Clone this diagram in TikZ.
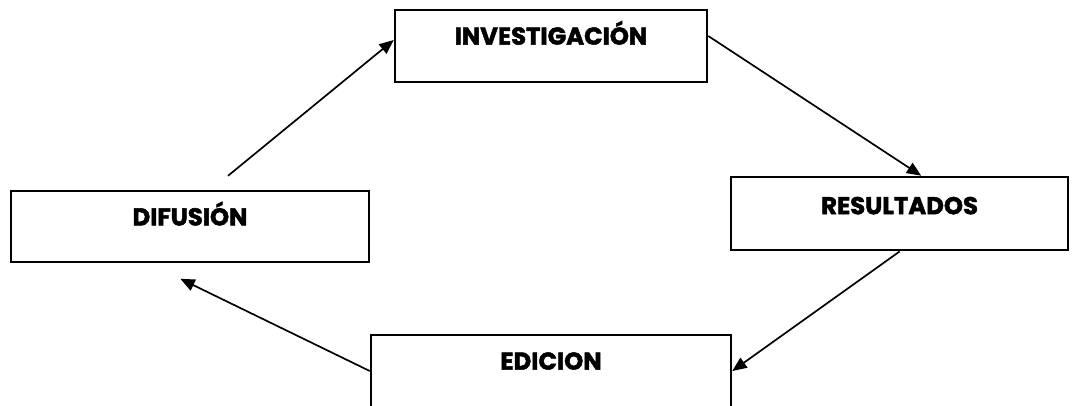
\documentclass[tikz,border=0pt]{standalone}
\usepackage{fontspec}
\setmainfont{Poppins}[BoldFeatures={FakeBold=2}]
\usetikzlibrary{arrows.meta}
\begin{document}
\begin{tikzpicture}
\tikzstyle{etapa}=[draw=black, line width=1.8pt, inner xsep=0pt, inner ysep=0pt,
  text height=0.86cm, text depth=0.93cm, font=\fontsize{17.3}{20}\selectfont\bfseries]
\tikzstyle{flecha}=[line width=1.2pt, -{Triangle[length=0.36cm,width=0.3cm]}]
\useasboundingbox (0,0) rectangle (27,-10.125);
% etapas del ciclo
\node [etapa, minimum width=7.8cm] (inv) at (13.775,-1.15) {INVESTIGACIÓN};
\node [etapa, minimum width=8.425cm, text height=0.93cm, text depth=0.9cm] (res) at (22.49,-5.34) {RESULTADOS};
\node [etapa, minimum width=9cm] (edi) at (13.775,-9.275) {EDICION};
\node [etapa, minimum width=8.95cm, text depth=0.91cm] (dif) at (4.75,-5.66) {DIFUSIÓN};
% flechas
\draw [flecha, shorten <=0.55cm] ([xshift=0.525cm]dif.north) -- ([yshift=0.15cm]inv.west);
\draw [flecha] ([yshift=0.25cm]inv.east) -- ([xshift=0.54cm]res.north);
\draw [flecha] (res.south) -- (edi.east);
\draw [flecha, shorten >=0.9cm] (edi.west) -- ([xshift=-1.05cm]dif.south);
\end{tikzpicture}
\end{document}
